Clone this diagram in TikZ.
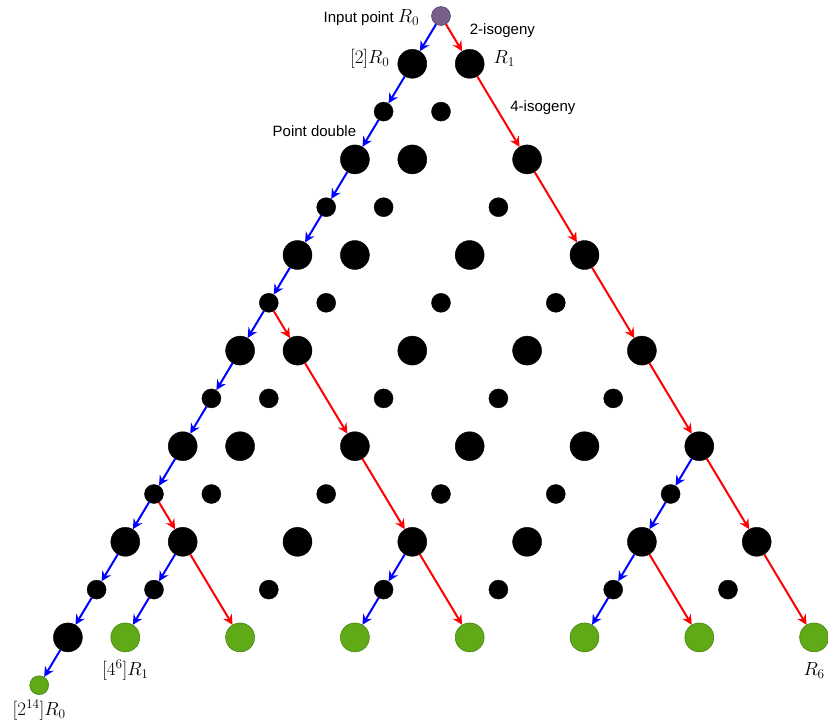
\documentclass[tikz,border=0pt]{standalone}
\usepackage{fix-cm}
\usepackage{fontspec}
\setmainfont{Liberation Sans}
\usepackage{amsmath}
\usetikzlibrary{positioning,arrows.meta}

\definecolor{inputfill}{HTML}{76608A}
\definecolor{inputline}{HTML}{432D57}
\definecolor{outputfill}{HTML}{60A917}
\definecolor{outputline}{HTML}{2D7600}

\newcommand{\ptlabel}[1]{{\fontsize{19}{22}\selectfont$#1$}}

\tikzset{
  bigdot/.style={circle, fill=black, draw=black, minimum size=29pt, inner sep=0pt},
  smalldot/.style={circle, fill=black, draw=black, minimum size=19pt, inner sep=0pt},
  inputdot/.style={fill=inputfill, draw=inputline},
  outputdot/.style={fill=outputfill, draw=outputline},
  dbl/.style={->, line width=2pt, blue},
  iso/.style={->, line width=2pt, red},
  lbl/.style={font=\fontsize{15}{18}\selectfont, inner sep=0pt},
}

\begin{document}
\begin{tikzpicture}[x=28.7pt, y=-47.8pt, >={Stealth[length=10pt, width=10pt, inset=3.5pt]}]
    \useasboundingbox (-441pt,16pt) rectangle (387pt,-710pt);

    % Input point and its chain of doublings
    \node[smalldot, inputdot] (p0r0) at (0,0) {};
    \foreach \k in {1,3,...,13} \node[bigdot] (p-\k r\k) at (-\k,\k) {};
    \foreach \k in {2,4,...,12} \node[smalldot] (p-\k r\k) at (-\k,\k) {};
    \node[smalldot, outputdot] (p-14r14) at (-14,14) {};

    % Triangle: curves reached by 4-isogenies
    \foreach \n in {0,...,5}
      \foreach \b in {0,...,\n} {
        \pgfmathtruncatemacro\xx{1-2*\n+4*\b}
        \pgfmathtruncatemacro\yy{2*\n+1}
        \node[bigdot] (p\xx r\yy) at (\xx,\yy) {};
      }
    \foreach \b in {0,...,6} {
      \pgfmathtruncatemacro\xx{-11+4*\b}
      \node[bigdot, outputdot] (p\xx r13) at (\xx,13) {};
    }

    % Triangle: intermediate doublings
    \foreach \n in {0,...,5}
      \foreach \b in {0,...,\n} {
        \pgfmathtruncatemacro\xx{-2*\n+4*\b}
        \pgfmathtruncatemacro\yy{2*\n+2}
        \node[smalldot] (p\xx r\yy) at (\xx,\yy) {};
      }

    % Point doublings
    \foreach \k in {0,...,13} {
      \pgfmathtruncatemacro\xa{-\k}
      \pgfmathtruncatemacro\xb{-\k-1}
      \pgfmathtruncatemacro\yb{\k+1}
      \draw[dbl] (p\xa r\k) -- (p\xb r\yb);
    }
    \foreach \a/\b in {p-1r11/p-2r12, p-2r12/p-3r13, p-9r11/p-10r12, p-10r12/p-11r13,
                       p9r9/p8r10, p8r10/p7r11, p7r11/p6r12, p6r12/p5r13}
      \draw[dbl] (\a) -- (\b);

    % Isogenies
    \foreach \a/\b in {p0r0/p1r1, p1r1/p3r3, p3r3/p5r5, p5r5/p7r7, p7r7/p9r9,
                       p9r9/p11r11, p11r11/p13r13, p-6r6/p-5r7, p-5r7/p-3r9,
                       p-3r9/p-1r11, p-1r11/p1r13, p-10r10/p-9r11, p-9r11/p-7r13,
                       p7r11/p9r13}
      \draw[iso] (\a) -- (\b);

    % Labels
    \node[lbl, left=12pt of p0r0, yshift=-2pt] {Input point \ptlabel{R_0}};
    \node[lbl, right=19pt of p0r0, yshift=-15pt] {2-isogeny};
    \node[lbl, left=8pt of p-1r1, anchor=base east] {\ptlabel{[2]R_0}};
    \node[lbl, right=9pt of p1r1, anchor=base west] {\ptlabel{R_1}};
    \node[lbl] at (3.55,1.92) {4-isogeny};
    \node[lbl] at (-4.41,2.41) {Point double};
    \node[lbl, below=8pt of p-11r13] {\ptlabel{[4^6]R_1}};
    \node[lbl, below=5pt of p-14r14] {\ptlabel{[2^{14}]R_0}};
    \node[lbl, below=10pt of p13r13] {\ptlabel{R_6}};
\end{tikzpicture}
\end{document}
